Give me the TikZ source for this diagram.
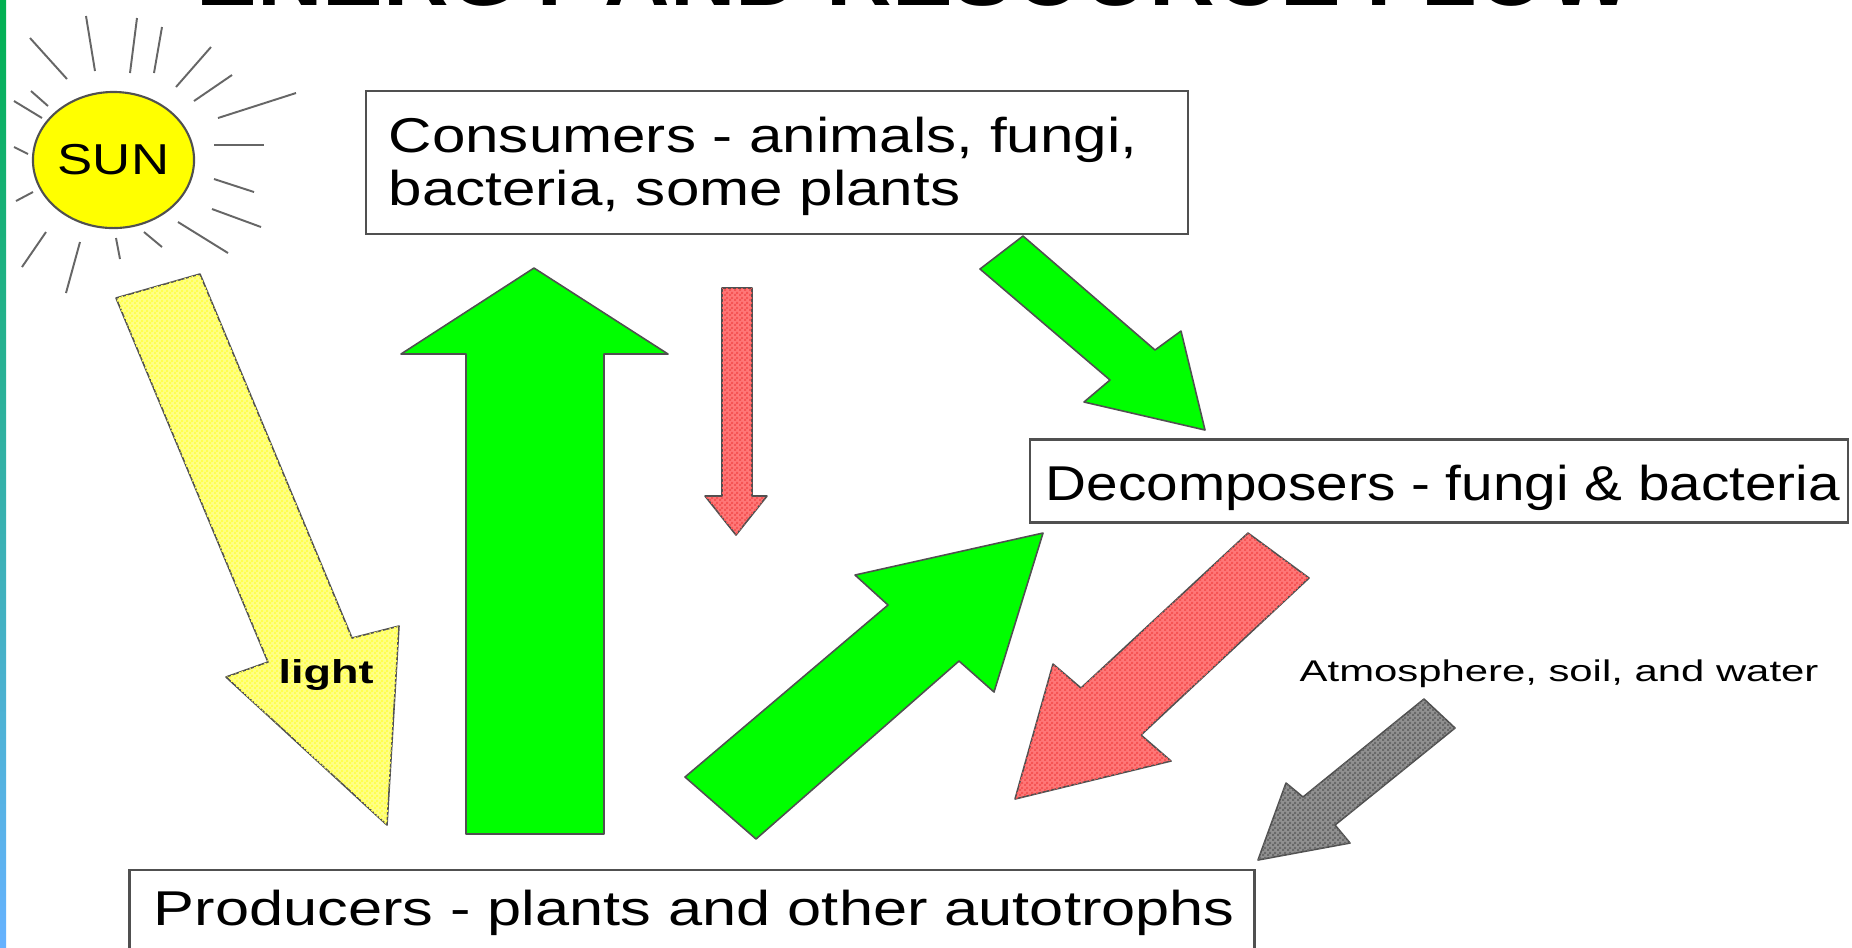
\documentclass[tikz,border=0pt]{standalone}
\usepackage{fontspec}
\usetikzlibrary{shapes.geometric,patterns}
\setmainfont{Liberation Sans}
\newcommand{\flowfont}[2]{\fontspec[FakeStretch=#1]{Liberation Sans}\fontsize{#2}{15pt}\selectfont}
\pgfdeclarepatternformonly{ditherdots}{\pgfqpoint{0pt}{0pt}}{\pgfqpoint{1.3pt}{1.3pt}}{\pgfqpoint{1.3pt}{1.3pt}}{%
  \pgfpathrectangle{\pgfqpoint{0pt}{0pt}}{\pgfqpoint{0.65pt}{0.65pt}}%
  \pgfpathrectangle{\pgfqpoint{0.65pt}{0.65pt}}{\pgfqpoint{0.65pt}{0.65pt}}%
  \pgfusepath{fill}}
\definecolor{flowgreen}{RGB}{0,255,0}
\definecolor{flowred}{RGB}{255,120,120}
\definecolor{flowreddot}{RGB}{245,85,85}
\definecolor{flowyellow}{RGB}{255,255,135}
\definecolor{flowyellowdot}{RGB}{255,255,80}
\definecolor{flowgray}{RGB}{145,145,145}
\definecolor{flowgraydot}{RGB}{105,105,105}
\definecolor{sunyellow}{RGB}{255,255,0}
\definecolor{edgegray}{RGB}{80,80,80}
\definecolor{stripetop}{RGB}{0,176,80}
\definecolor{stripebot}{RGB}{102,178,255}
\tikzset{
  flowbox/.style={draw=edgegray,line width=0.7pt,fill=white,inner sep=0pt},
  flowarrow/.style={draw=edgegray,line width=0.45pt,line join=round},
  sunray/.style={draw=black!60,line width=0.55pt}
}
\begin{document}
\begin{tikzpicture}[x=0.01cm,y=-0.01cm,every node/.style={inner sep=0pt}]
\useasboundingbox (0,0) rectangle (1852,947);
\fill[white] (0,0) rectangle (1852,947);
\shade[top color=stripetop,bottom color=stripebot] (0,0) rectangle (6,947);
% title, cut by the page
\begin{scope}
\clip (0,0) rectangle (1852,947);
\node[anchor=base,font=\bfseries\fontsize{25.8pt}{30pt}\selectfont] (title) at (915,5) {ENERGY AND RESOURCE FLOW};
\end{scope}
% sun
\node[draw=edgegray,fill=sunyellow,ellipse,line width=0.6pt,minimum width=1.61cm,minimum height=1.36cm,font=\flowfont{1.22}{12.3pt}] (sun) at (113.5,160) {SUN};
\foreach \xa/\ya/\xb/\yb in {86/16/95/71,137/18/130/73,162/27/154/73,30/38/67/79,211/47/176/87,232/75/194/101,296/93/218/118,31/91/48/106,14/101/42/118,14/147/28/154,16/201/33/192,214/145/264/145,214/179/254/192,212/209/261/227,178/222/228/253,144/232/162/247,116/238/120/259,80/242/66/293,46/232/22/267}
  \draw[sunray] (\xa,\ya) -- (\xb,\yb);
% boxes
\node[flowbox,minimum width=8.22cm,minimum height=1.43cm] (consumers) at (777,162.5) {};
\node[anchor=base west,align=left,font=\flowfont{1.23}{13.9pt}] (consumerstext) at (388,205) {Consumers - animals, fungi,\\bacteria, some plants};
\node[flowbox,minimum width=8.18cm,minimum height=0.83cm] (decomposers) at (1439,481) {};
\node[anchor=base west,font=\flowfont{1.16}{13.9pt}] (decomposerstext) at (1045,500) {Decomposers - fungi \& bacteria};
\node[flowbox,minimum width=11.24cm,minimum height=1.1cm] (producers) at (692,925) {};
\node[anchor=base west,font=\flowfont{1.255}{13.9pt}] (producerstext) at (153,925) {Producers - plants and other autotrophs};
% arrows
\draw[flowarrow,fill=flowyellow,postaction={pattern=ditherdots,pattern color=flowyellowdot}] (116,298) -- (200,274) -- (352,638) -- (399,626) -- (387,825) -- (226,677) -- (268,662) -- cycle;
\draw[flowarrow,fill=flowgreen] (534,268) -- (668,354) -- (604,354) -- (604,834) -- (466,834) -- (466,354) -- (401,354) -- cycle;
\draw[flowarrow,fill=flowred,postaction={pattern=ditherdots,pattern color=flowreddot}] (722,288) -- (752,288) -- (752,496) -- (767,496) -- (736,535) -- (705,496) -- (722,496) -- cycle;
\draw[flowarrow,fill=flowgreen] (980,269) -- (1023,236) -- (1155,350) -- (1181,331) -- (1205,430) -- (1084,402) -- (1110,380) -- cycle;
\draw[flowarrow,fill=flowgreen] (685,777) -- (756,839) -- (959,661) -- (994,692) -- (1043,533) -- (855,575) -- (888,605) -- cycle;
\draw[flowarrow,fill=flowred,postaction={pattern=ditherdots,pattern color=flowreddot}] (1248,533) -- (1309,578) -- (1141,735) -- (1171,761) -- (1015,799) -- (1053,664) -- (1081,688) -- cycle;
\draw[flowarrow,fill=flowgray,postaction={pattern=ditherdots,pattern color=flowgraydot}] (1424,699) -- (1455,728) -- (1335,825) -- (1350,843) -- (1258,860) -- (1286,783) -- (1303,797) -- cycle;
% labels
\node[anchor=base,font=\flowfont{1.36}{9.4pt}\bfseries] (light) at (326,683) {light};
\node[anchor=base west,font=\flowfont{1.40}{8.5pt}] (atmosphere) at (1299,681) {Atmosphere, soil, and water};
\end{tikzpicture}
\end{document}
